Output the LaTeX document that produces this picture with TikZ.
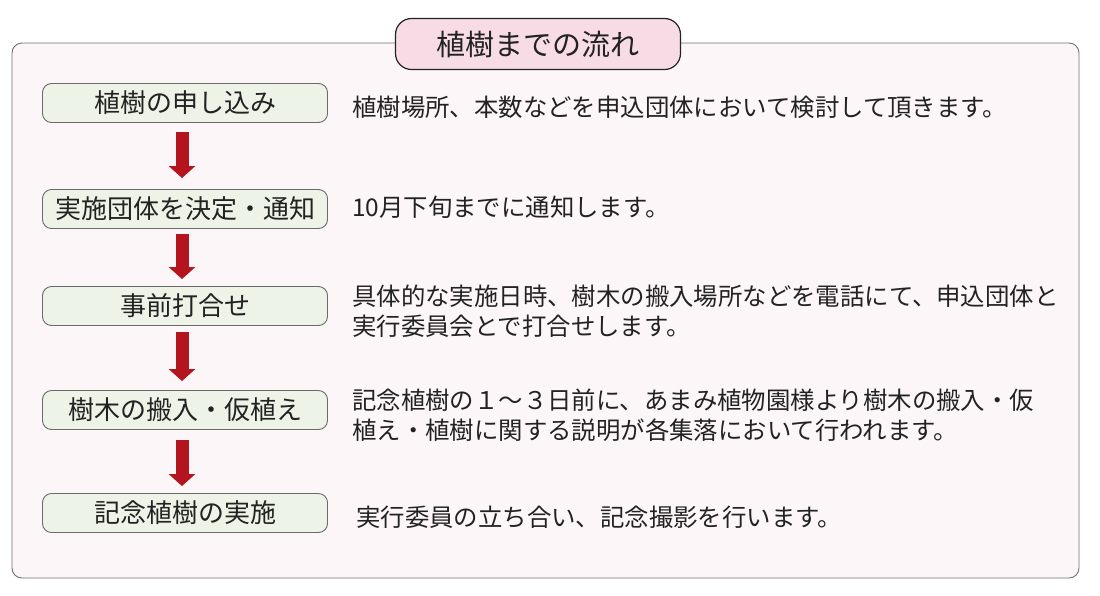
\documentclass[tikz,border=0pt]{standalone}
\usepackage{fontspec}
\setmainfont{Noto Sans CJK JP}
\usetikzlibrary{arrows.meta}
\definecolor{framefill}{HTML}{FDF6F8}
\definecolor{frameline}{HTML}{707070}
\definecolor{titlefill}{HTML}{F8DCE5}
\definecolor{boxfill}{HTML}{EDF4E7}
\definecolor{boxline}{HTML}{6A6A6A}
\definecolor{arrowred}{HTML}{B3141E}
\definecolor{ink}{HTML}{222222}
\tikzset{
  stepbox/.style={draw=boxline, line width=0.9pt, fill=boxfill, rounded corners=9pt,
    minimum width=285pt, minimum height=39pt, inner sep=0pt, text=ink,
    font=\fontsize{26}{30}\selectfont},
  note/.style={anchor=west, align=left, inner sep=0pt, text=ink,
    font=\fontsize{24.4}{30}\selectfont},
  flow/.style={draw=arrowred, line width=13pt, -{Triangle[width=26pt,length=12pt]}}
}

\begin{document}
\begin{tikzpicture}[x=1pt, y=-1pt]
  \useasboundingbox (0,0) rectangle (1100,595);

  % frame and title
  \draw[frameline, line width=0.9pt, fill=framefill, rounded corners=10pt]
    (12,43) rectangle (1079,578);
  \node[draw=ink, line width=1.2pt, fill=titlefill, rounded corners=16pt,
    minimum width=285pt, minimum height=51pt, inner sep=0pt, text=ink,
    font=\fontsize{29}{34}\selectfont] (title) at (538,44) {植樹までの流れ};

  % steps
  \node[stepbox] (s1) at (185,103) {植樹の申し込み};
  \node[stepbox] (s2) at (185,209) {実施団体を決定・通知};
  \node[stepbox] (s3) at (185,306) {事前打合せ};
  \node[stepbox] (s4) at (185,410) {樹木の搬入・仮植え};
  \node[stepbox] (s5) at (185,513) {記念植樹の実施};

  \draw[flow] ([yshift=-9pt]s1.south -| 182,0) -- ([yshift=11pt]s2.north -| 182,0);
  \draw[flow] ([yshift=-5pt]s2.south -| 182,0) -- ([yshift=7pt]s3.north -| 182,0);
  \draw[flow] ([yshift=-6pt]s3.south -| 182,0) -- ([yshift=9pt]s4.north -| 182,0);
  \draw[flow] ([yshift=-10pt]s4.south -| 182,0) -- ([yshift=7pt]s5.north -| 182,0);

  % descriptions
  \node[note] (d1) at (352,107) {植樹場所、本数などを申込団体において検討して頂きます。};
  \node[note] (d2) at (352,207) {10月下旬までに通知します。};
  \node[note] (d3) at (352,311) {具体的な実施日時、樹木の搬入場所などを電話にて、申込団体と\\実行委員会とで打合せします。};
  \node[note] (d4) at (352,415) {記念植樹の１～３日前に、あまみ植物園様より樹木の搬入・仮\\植え・植樹に関する説明が各集落において行われます。};
  \node[note] (d5) at (356,517) {実行委員の立ち合い、記念撮影を行います。};
\end{tikzpicture}
\end{document}
